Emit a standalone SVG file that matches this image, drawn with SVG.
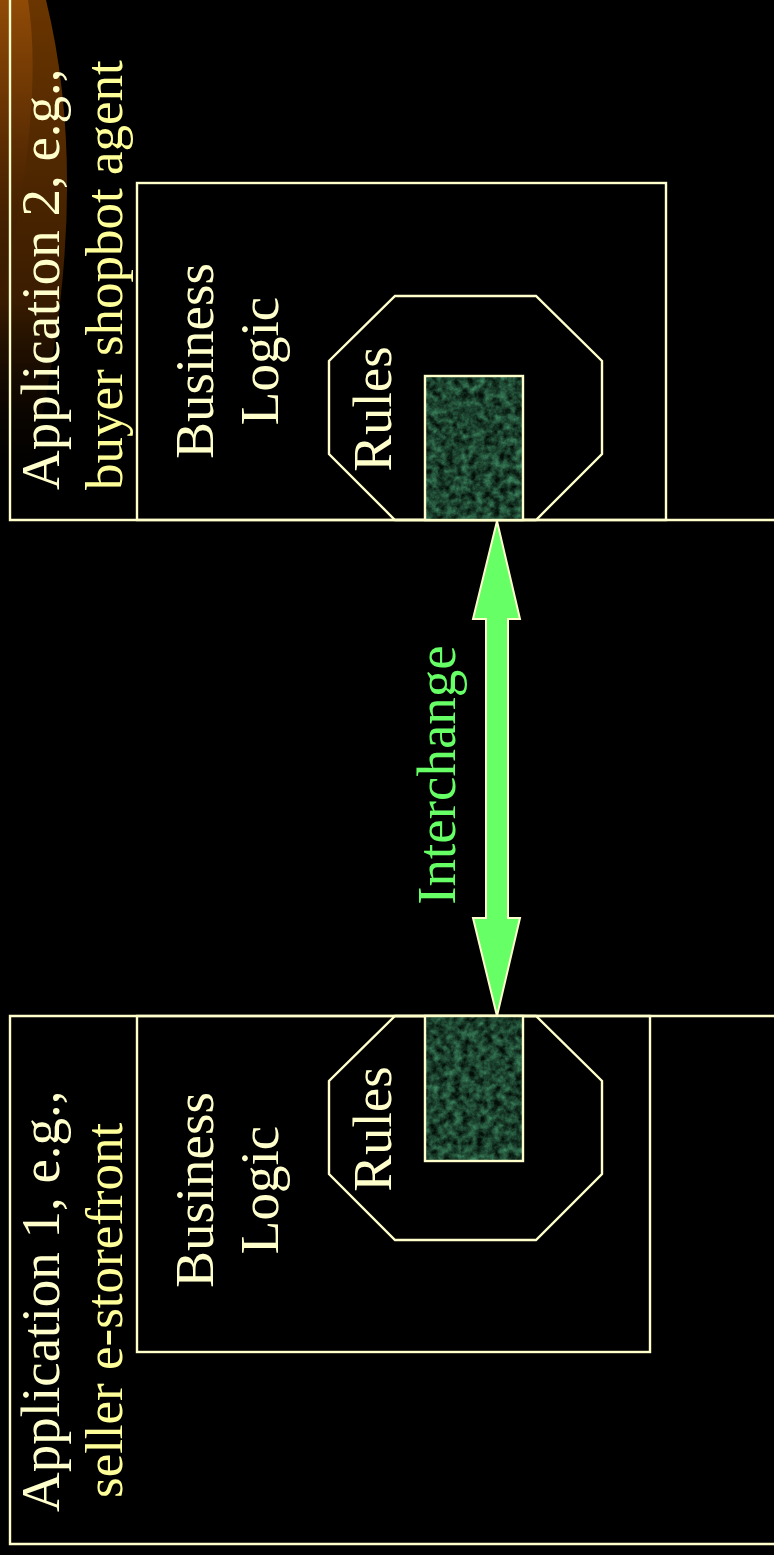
<svg xmlns="http://www.w3.org/2000/svg" width="774" height="1555" viewBox="0 0 774 1555">
<defs>
<style>
.ln{fill:none;stroke:#FFFFCC;stroke-width:2.4}
.t{font-family:"Liberation Serif","Times New Roman",serif;font-size:55px;fill:#FFFFCC}
.t2{fill:#FFFF99;font-size:53px}
.g{fill:#66FF66}
.mid{text-anchor:middle}
</style>
<linearGradient id="sw1" x1="0" y1="0" x2="0" y2="1">
<stop offset="0" stop-color="#6a3500"/>
<stop offset="0.6" stop-color="#3a1c00"/>
<stop offset="1" stop-color="#000" stop-opacity="0"/>
</linearGradient>
<linearGradient id="sw2" x1="0" y1="0" x2="0" y2="1">
<stop offset="0" stop-color="#8f4a06"/>
<stop offset="0.5" stop-color="#5a2c02"/>
<stop offset="1" stop-color="#2a1300" stop-opacity="0"/>
</linearGradient>
<filter id="marble" x="0" y="0" width="100%" height="100%" color-interpolation-filters="sRGB">
<feTurbulence type="fractalNoise" baseFrequency="0.13" numOctaves="4" seed="5"/>
<feColorMatrix type="matrix" values="0.45 0 0 0 -0.1  0.95 0 0 0 -0.2  0.7 0 0 0 -0.15  0 0 0 0 1"/>
<feComposite in2="SourceGraphic" operator="in"/>
</filter>
</defs>
<rect x="0" y="0" width="774" height="1555" fill="#000"/>
<g id="swoosh">
<path d="M0,0 L46,0 Q95,200 30,470 L0,500 Z" fill="url(#sw1)"/>
<path d="M0,0 L28,0 Q45,110 0,300 Z" fill="url(#sw2)"/>
</g>
<g id="app2">
<path class="ln" d="M10,-2 L10,520 L776,520"/>
<text class="t" transform="translate(59,490) rotate(-90)">Application 2, e.g.,</text>
<text class="t t2" transform="translate(122,490) rotate(-90)">buyer shopbot agent</text>
</g>
<g id="logic2">
<rect class="ln" x="137" y="183" width="529" height="337"/>
<text class="t mid" transform="translate(213,361) rotate(-90)">Business</text>
<text class="t mid" transform="translate(278,361) rotate(-90)">Logic</text>
</g>
<g id="rules2">
<polygon class="ln" points="395,296 536,296 602,361 602,454 536,520 395,520 329,454 329,361"/>
<rect x="425" y="376" width="98" height="144" fill="#143d25"/>
<rect x="425" y="376" width="98" height="144" fill="#fff" filter="url(#marble)" opacity="0.75"/>
<rect class="ln" x="425" y="376" width="98" height="144"/>
<text class="t mid" transform="translate(391,409) rotate(-90)">Rules</text>
</g>
<g id="app1">
<path class="ln" d="M776,1016 L10,1016 L10,1544 L776,1544"/>
<text class="t" transform="translate(59,1512) rotate(-90)">Application 1, e.g.,</text>
<text class="t t2" transform="translate(122,1498) rotate(-90)">seller e-storefront</text>
</g>
<g id="logic1">
<rect class="ln" x="137" y="1016" width="513" height="336"/>
<text class="t mid" transform="translate(213,1190) rotate(-90)">Business</text>
<text class="t mid" transform="translate(278,1190) rotate(-90)">Logic</text>
</g>
<g id="rules1">
<polygon class="ln" points="395,1016 536,1016 602,1081 602,1174 536,1240 395,1240 329,1174 329,1081"/>
<rect x="425" y="1016" width="98" height="145" fill="#143d25"/>
<rect x="425" y="1016" width="98" height="145" fill="#fff" filter="url(#marble)" opacity="0.75"/>
<rect class="ln" x="425" y="1016" width="98" height="145"/>
<text class="t mid" transform="translate(391,1129) rotate(-90)">Rules</text>
</g>
<g id="connectors">
<polygon points="497,521 520,619 508,619 508,918 520,918 497,1016 473,918 486,918 486,619 473,619" fill="#66FF66" stroke="#FFFFCC" stroke-width="2" stroke-linejoin="miter"/>
<text class="t g mid" transform="translate(455,775) rotate(-90)">Interchange</text>
</g>
</svg>
